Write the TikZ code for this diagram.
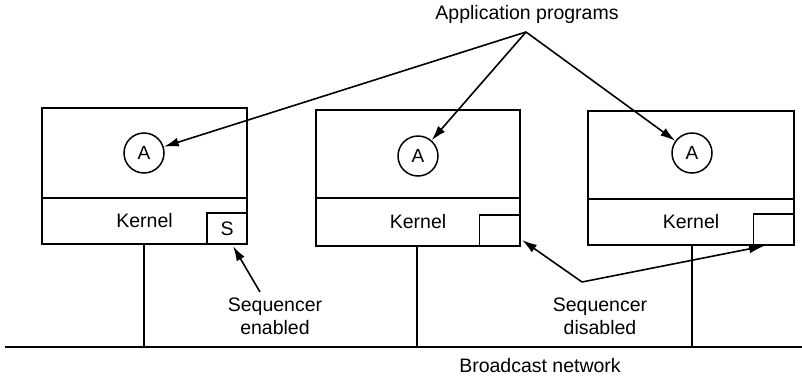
\documentclass[tikz,border=0pt]{standalone}
\usepackage{fontspec}
\setmainfont{Liberation Sans}
\usetikzlibrary{arrows.meta}
\begin{document}
\begin{tikzpicture}[x=1pt,y=-1pt,
  part/.style={draw,line width=2.4pt,rectangle,inner sep=0pt},
  seqbox/.style={draw,line width=1.8pt,rectangle,inner sep=0pt,minimum width=40pt,minimum height=31pt},
  app/.style={draw,line width=1.5pt,circle,minimum size=40pt,inner sep=0pt,font=\fontsize{19}{22}\selectfont},
  lbl/.style={font=\fontsize{19.5}{23}\selectfont,align=center,inner sep=0pt},
  conn/.style={line width=1.6pt},
  arr/.style={conn,-{Latex[length=15pt,width=9pt]}},
  wire/.style={line width=2.4pt}]
\useasboundingbox (0,0) rectangle (802,378);
% host 1
\node[part,minimum width=205pt,minimum height=90pt] (u1) at (144.5,153) {};
\node[part,minimum width=205pt,minimum height=46pt,lbl] (k1) at (144.5,221) {Kernel};
\node[seqbox,lbl] (s1) at (227,228.5) {S};
\node[app] (a1) at (144,153) {A};
% host 2
\node[part,minimum width=204pt,minimum height=88pt] (u2) at (418,154) {};
\node[part,minimum width=204pt,minimum height=48pt,lbl] (k2) at (418,222) {Kernel};
\node[seqbox] (s2) at (499.5,230.5) {};
\node[app] (a2) at (418,156) {A};
% host 3
\node[part,minimum width=206pt,minimum height=88pt] (u3) at (691,155) {};
\node[part,minimum width=206pt,minimum height=46pt,lbl] (k3) at (691,222) {Kernel};
\node[seqbox] (s3) at (773.5,229.5) {};
\node[app] (a3) at (692,153) {A};
% network
\coordinate (n0) at (5,347);
\coordinate (n1) at (802,347);
\draw[wire] (n0) -- (n1);
\draw[wire] (k1.south -| 144,0) -- (144,347);
\draw[wire] (k2.south -| 417,0) -- (417,347);
\draw[wire] (k3.south -| 692,0) -- (692,347);
\node[lbl] (bn) at (540,366) {Broadcast network};
% application programs
\node[lbl] (ap) at (527,14) {Application programs};
\coordinate (apex) at (526,32);
\draw[arr] (apex) -- (a1);
\draw[arr] (apex) -- (a2);
\draw[arr] (apex) -- (a3);
% sequencer enabled
\node[lbl] (se) at (275,316) {Sequencer\\enabled};
\coordinate (set) at (260,292);
\draw[arr] (set) -- (233,246);
% sequencer disabled
\node[lbl] (sd) at (600,316) {Sequencer\\disabled};
\coordinate (sdv) at (582,282);
\draw[arr] (sdv) -- (522,240);
\draw[arr] (sdv) -- (764,246);
\end{tikzpicture}
\end{document}
